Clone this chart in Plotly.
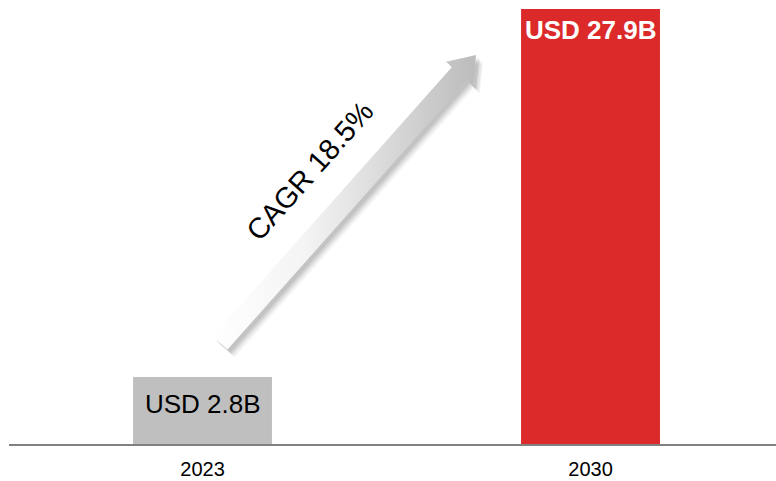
import numpy as np
import plotly.graph_objects as go

# ---- data ----
years = ["2023", "2030"]
bar_heights = [4.3, 27.9]          # displayed bar heights
value_labels = ["USD 2.8B", "USD 27.9B"]
cagr_label = "CAGR 18.5%"

# ---- layout constants ----
W, H = 776, 481
ML, MR, MT, MB = 9, 0, 0, 37
PW, PH = W - ML - MR, H - MT - MB
XR = [-0.4987, 1.478]
YR = [0, 28.48]
xpos = [0, 1]

def to_px(x, y):
    px = ML + (np.asarray(x) - XR[0]) / (XR[1] - XR[0]) * PW
    py = MT + (YR[1] - np.asarray(y)) / (YR[1] - YR[0]) * PH
    return px, py

def to_data(px, py):
    x = XR[0] + (np.asarray(px) - ML) / PW * (XR[1] - XR[0])
    y = YR[1] - (np.asarray(py) - MT) / PH * (YR[1] - YR[0])
    return x, y

# arrow (decoration) in data coords
arrow_tail = (0.045, 6.48)
arrow_tip = (0.705, 24.95)
shaft_half, head_half, head_len = 10, 18, 25

tx, ty = to_px(*arrow_tail)
hx, hy = to_px(*arrow_tip)
p0 = np.array([tx, ty]); p1 = np.array([hx, hy])
d = (p1 - p0) / np.linalg.norm(p1 - p0)
n = np.array([-d[1], d[0]])
base = p1 - d * head_len
poly = np.array([
    p0 + n * shaft_half, base + n * shaft_half, base + n * head_half, p1,
    base - n * head_half, base - n * shaft_half, p0 - n * shaft_half,
    p0 + n * shaft_half])

fig = go.Figure()

fig.add_trace(go.Bar(
    x=xpos, y=bar_heights, width=0.358,
    marker=dict(color=["#bfbfbf", "#dc292a"], line=dict(width=0)),
    hoverinfo="skip", showlegend=False))

# shadow layers
for off, alpha in [((7, 8), 0.04), ((6, 6), 0.06), ((4, 5), 0.08), ((3, 3), 0.08)]:
    sx, sy = to_data(poly[:, 0] + off[0], poly[:, 1] + off[1])
    fig.add_trace(go.Scatter(
        x=sx, y=sy, mode="lines", fill="toself",
        fillcolor=f"rgba(0,0,0,{alpha})", line=dict(width=0),
        hoverinfo="skip", showlegend=False))

ax_, ay_ = to_data(poly[:, 0], poly[:, 1])
fig.add_trace(go.Scatter(
    x=ax_, y=ay_, mode="lines", fill="toself",
    fillgradient=dict(type="horizontal",
                      colorscale=[[0, "#ffffff"], [0.35, "#f4f4f4"], [1, "#bcbcbd"]]),
    line=dict(width=0), hoverinfo="skip", showlegend=False))

# CAGR text, offset to the upper-left of the shaft
ang = np.degrees(np.arctan2(-d[1], d[0]))
along, perp = 188, -47
cp = p0 + d * along + n * perp
cx, cy = to_data(cp[0], cp[1])

annotations = [
    dict(x=cx, y=cy, text=cagr_label, showarrow=False, textangle=-ang,
         xanchor="center", yanchor="middle",
         font=dict(family="Arial, Liberation Sans", size=29, color="#000000")),
    dict(x=xpos[0], y=bar_heights[0], yshift=-27, text=value_labels[0],
         showarrow=False, xanchor="center", yanchor="middle",
         font=dict(family="Arial, Liberation Sans", size=26, color="#000000")),
    dict(x=xpos[1], y=bar_heights[1], yshift=-21, text="<b>" + value_labels[1] + "</b>",
         showarrow=False, xanchor="center", yanchor="middle",
         font=dict(family="Arial, Liberation Sans", size=26, color="#ffffff")),
]

fig.update_layout(
    width=W, height=H,
    margin=dict(l=ML, r=MR, t=MT, b=MB, pad=0),
    paper_bgcolor="white", plot_bgcolor="white",
    annotations=annotations,
    xaxis=dict(range=XR, tickvals=xpos, ticktext=years, showgrid=False,
               zeroline=False, showline=True, linecolor="#808080", linewidth=2,
               ticks="", ticklabelstandoff=6,
               tickfont=dict(family="Arial, Liberation Sans", size=20, color="#000000"),
               fixedrange=True),
    yaxis=dict(range=YR, visible=False, showgrid=False, zeroline=False, fixedrange=True),
)

fig.write_html("out.html")
